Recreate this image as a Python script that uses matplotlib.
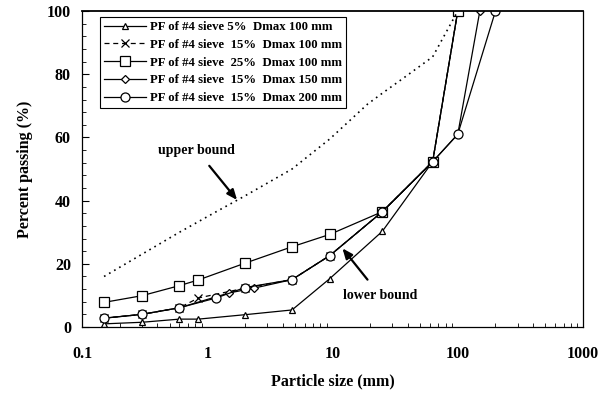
import matplotlib
matplotlib.use("Agg")
import matplotlib.pyplot as plt
from matplotlib.ticker import MultipleLocator, FixedLocator, LogLocator, NullFormatter

plt.rcParams['font.family'] = ['Liberation Serif', 'DejaVu Serif']
plt.rcParams['font.weight'] = 'bold'

# Gradation data: particle size (mm) vs percent passing (%)
size_5_d100 = [0.15, 0.3, 0.6, 0.85, 2, 4.75, 9.5, 25, 63, 100]
pass_5_d100 = [1.0, 1.5, 2.5, 2.5, 3.9, 5.4, 15.3, 30.3, 52.3, 100]

size_15_d100 = [0.15, 0.3, 0.6, 0.85, 2, 4.75, 9.5, 25, 63, 100]
pass_15_d100 = [2.8, 4.0, 6.1, 9.2, 12.3, 15.0, 22.6, 36.5, 52.3, 100]

size_25_d100 = [0.15, 0.3, 0.6, 0.85, 2, 4.75, 9.5, 25, 63, 100]
pass_25_d100 = [7.8, 9.9, 13.1, 14.9, 20.2, 25.4, 29.3, 36.5, 52.3, 100]

size_15_d150 = [0.15, 0.3, 0.6, 1.5, 2.36, 4.75, 9.5, 25, 63, 100, 150]
pass_15_d150 = [2.8, 4.0, 6.1, 10.8, 12.3, 15.0, 22.6, 36.5, 52.3, 61, 100]

size_15_d200 = [0.15, 0.3, 0.6, 1.18, 2, 4.75, 9.5, 25, 63, 100, 200]
pass_15_d200 = [2.8, 4.0, 6.1, 9.2, 12.5, 15.0, 22.6, 36.5, 52.3, 61, 100]

size_upper = [0.15, 0.3, 0.6, 1.18, 2, 4.75, 9.5, 19, 25, 37.5, 63, 100]
pass_upper = [16, 23, 30, 36.5, 41.5, 50, 59.5, 70.5, 74, 79, 85.5, 100]

labels = [
    "PF of #4 sieve 5%  Dmax 100 mm",
    "PF of #4 sieve  15%  Dmax 100 mm",
    "PF of #4 sieve  25%  Dmax 100 mm",
    "PF of #4 sieve  15%  Dmax 150 mm",
    "PF of #4 sieve  15%  Dmax 200 mm",
]
x_ticks = [0.1, 1, 10, 100, 1000]
x_tick_labels = ["0.1", "1", "10", "100", "1000"]
y_ticks = [0, 20, 40, 60, 80, 100]

fig = plt.figure(figsize=(6.07, 3.94), dpi=100)
ax = fig.add_axes([0.1351, 0.170, 0.8254, 0.802])

common = dict(color='black', lw=0.9, mfc='white', mec='black', mew=0.9)
ax.plot(size_5_d100, pass_5_d100, '-', marker='^', ms=4.5, label=labels[0], **common)
ax.plot(size_15_d100, pass_15_d100, '--', marker='x', ms=5.5, label=labels[1],
        dashes=(4, 3), **common)
ax.plot(size_25_d100, pass_25_d100, '-', marker='s', ms=6.5, label=labels[2], **common)
ax.plot(size_15_d150, pass_15_d150, '-', marker='D', ms=4.5, label=labels[3], **common)
ax.plot(size_15_d200, pass_15_d200, '-', marker='o', ms=6.5, label=labels[4], **common)

ax.plot(size_upper, pass_upper, color='black', lw=1.2, linestyle=(0, (1, 2.5)))

ax.set_xscale('log')
ax.set_xlim(0.1, 1000)
ax.set_ylim(0, 100)
ax.xaxis.set_major_locator(FixedLocator(x_ticks))
ax.set_xticklabels(x_tick_labels)
ax.xaxis.set_minor_locator(LogLocator(base=10, subs=range(2, 10)))
ax.xaxis.set_minor_formatter(NullFormatter())
ax.yaxis.set_major_locator(FixedLocator(y_ticks))
ax.yaxis.set_minor_locator(MultipleLocator(4))

ax.tick_params(axis='both', which='both', direction='in', top=False, right=False)
ax.tick_params(axis='x', which='major', length=0, pad=14, labelsize=11.5)
ax.tick_params(axis='x', which='minor', length=3)
ax.tick_params(axis='y', which='major', length=5, pad=8, labelsize=11.5)
ax.tick_params(axis='y', which='minor', length=3)
for s in ax.spines.values():
    s.set_linewidth(0.9)
ax.spines['top'].set_linewidth(1.3)

ax.set_xlabel("Particle size (mm)", fontsize=11.5, fontweight='bold', labelpad=8)
ax.set_ylabel("Percent passing (%)", fontsize=11.5, fontweight='bold', labelpad=10)

ax.annotate("upper bound", xy=(1.73, 40.2), xytext=(0.82, 56),
            ha='center', va='center', fontsize=10, fontweight='bold',
            arrowprops=dict(arrowstyle='-|>,head_length=0.6,head_width=0.25',
                            color='black', lw=1.6, shrinkA=6, shrinkB=0))
ax.annotate("lower bound", xy=(12.0, 24.9), xytext=(24, 10),
            ha='center', va='center', fontsize=10, fontweight='bold',
            arrowprops=dict(arrowstyle='-|>,head_length=0.6,head_width=0.25',
                            color='black', lw=1.6, shrinkA=6, shrinkB=0))

leg = ax.legend(loc='upper left', bbox_to_anchor=(0.036, 0.98), fontsize=9.2,
                frameon=True, fancybox=False, edgecolor='black', framealpha=1,
                handlelength=3.3, handletextpad=0.3, labelspacing=0.45,
                borderpad=0.3, borderaxespad=0)
leg.get_frame().set_linewidth(0.8)
for t in leg.get_texts():
    t.set_fontweight('bold')

fig.savefig("out.png", dpi=100)
